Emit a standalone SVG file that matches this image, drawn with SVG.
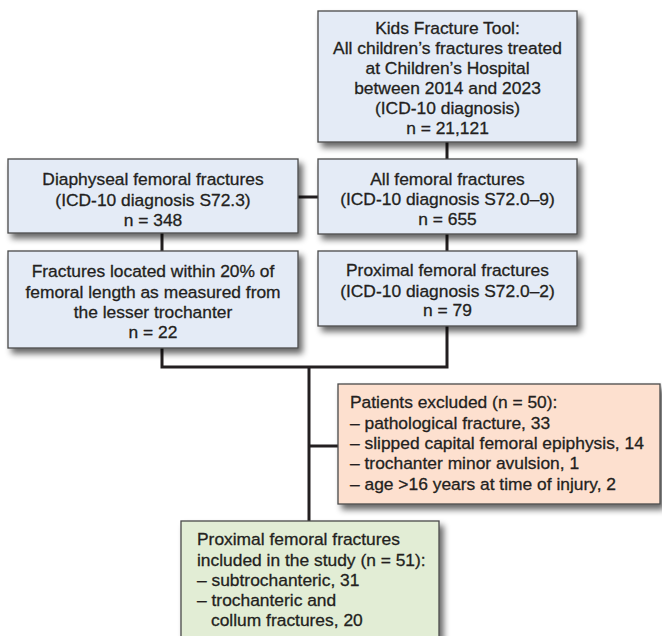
<svg xmlns="http://www.w3.org/2000/svg" width="662" height="636" viewBox="0 0 662 636">
<defs>
<filter id="sh" x="-10%" y="-10%" width="130%" height="140%">
<feGaussianBlur in="SourceAlpha" stdDeviation="3"/>
<feOffset dx="4" dy="5" result="b"/>
<feComponentTransfer><feFuncA type="linear" slope="0.6"/></feComponentTransfer>
<feMerge><feMergeNode/><feMergeNode in="SourceGraphic"/></feMerge>
</filter>
</defs>
<style>
.box{stroke:#4a4a4a;stroke-width:1.3;filter:url(#sh)}
.blue{fill:#e4ebf6}
.peach{fill:#fde0cf}
.green{fill:#e2edd5}
text{font-family:"Liberation Sans",Arial,sans-serif;font-size:17.4px;fill:#231f20;stroke:#231f20;stroke-width:0.3}
.c{text-anchor:middle}
.conn{stroke:#231f20;stroke-width:3;fill:none}
</style>
<rect width="662" height="636" fill="#fff"/>
<g id="connectors">
<line class="conn" x1="447" y1="141" x2="447" y2="160"/>
<line class="conn" x1="297" y1="197" x2="319" y2="197"/>
<line class="conn" x1="447" y1="233" x2="447" y2="252"/>
<line class="conn" x1="162" y1="232" x2="162" y2="252"/>
<polyline class="conn" points="162,347 162,367 447,367 447,325"/>
<line class="conn" x1="309" y1="367" x2="309" y2="522"/>
<line class="conn" x1="309" y1="446" x2="339" y2="446"/>
</g>
<g id="n_all_children">
<rect class="box blue" x="318" y="11" width="259" height="131"/>
<text class="c" x="447.5" y="34">Kids Fracture Tool:</text>
<text class="c" x="447.5" y="54">All children’s fractures treated</text>
<text class="c" x="447.5" y="74">at Children’s Hospital</text>
<text class="c" x="447.5" y="94">between 2014 and 2023</text>
<text class="c" x="447.5" y="114">(ICD-10 diagnosis)</text>
<text class="c" x="447.5" y="134">n = 21,121</text>
</g>
<g id="n_all_femoral">
<rect class="box blue" x="318" y="159" width="259" height="75"/>
<text class="c" x="447.5" y="185">All femoral fractures</text>
<text class="c" x="447.5" y="205">(ICD-10 diagnosis S72.0–9)</text>
<text class="c" x="447.5" y="225">n = 655</text>
</g>
<g id="n_diaphyseal">
<rect class="box blue" x="8" y="159" width="290" height="74"/>
<text class="c" x="153" y="185">Diaphyseal femoral fractures</text>
<text class="c" x="153" y="206">(ICD-10 diagnosis S72.3)</text>
<text class="c" x="153" y="226">n = 348</text>
</g>
<g id="n_within20">
<rect class="box blue" x="8" y="251" width="290" height="97"/>
<text class="c" x="153" y="277">Fractures located within 20% of</text>
<text class="c" x="153" y="298">femoral length as measured from</text>
<text class="c" x="153" y="318">the lesser trochanter</text>
<text class="c" x="153" y="338">n = 22</text>
</g>
<g id="n_proximal">
<rect class="box blue" x="318" y="251" width="259" height="75"/>
<text class="c" x="447.5" y="276">Proximal femoral fractures</text>
<text class="c" x="447.5" y="297">(ICD-10 diagnosis S72.0–2)</text>
<text class="c" x="447.5" y="316">n = 79</text>
</g>
<g id="n_excluded">
<rect class="box peach" x="338" y="384" width="322" height="120"/>
<text x="350" y="408">Patients excluded (n = 50):</text>
<text x="350" y="429">– pathological fracture, 33</text>
<text x="350" y="449">– slipped capital femoral epiphysis, 14</text>
<text x="350" y="469">– trochanter minor avulsion, 1</text>
<text x="350" y="490">– age &gt;16 years at time of injury, 2</text>
</g>
<g id="n_included">
<rect class="box green" x="181" y="521" width="258" height="125"/>
<text x="197" y="544.5">Proximal femoral fractures</text>
<text x="197" y="565.5">included in the study (n = 51):</text>
<text x="197" y="585.5">– subtrochanteric, 31</text>
<text x="197" y="605.5">– trochanteric and</text>
<text x="211" y="625.5">collum fractures, 20</text>
</g>
</svg>
